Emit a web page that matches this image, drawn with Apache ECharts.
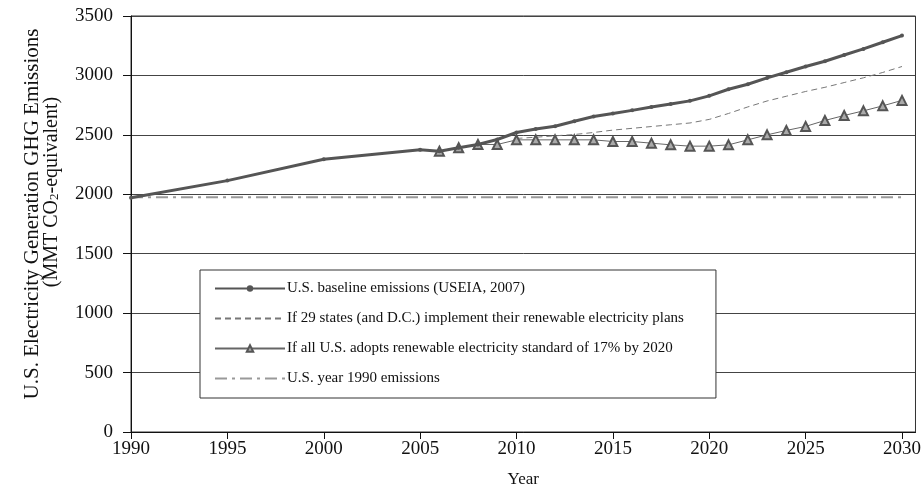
<!DOCTYPE html>
<html>
<head>
<meta charset="utf-8">
<script src="https://cdn.jsdelivr.net/npm/echarts@6/dist/echarts.min.js"></script>
<style>
  html, body { margin: 0; padding: 0; background: #fff; }
  #main { width: 924px; height: 495px; }
</style>
</head>
<body>
<div id="main"></div>
<script>
// values (MMT CO2-eq)
const baseYears = [1990, 1995, 2000, 2005, 2006, 2007, 2008, 2009, 2010, 2011, 2012, 2013, 2014, 2015,
  2016, 2017, 2018, 2019, 2020, 2021, 2022, 2023, 2024, 2025, 2026, 2027, 2028, 2029, 2030];
const baseValues = [1970, 2115, 2295, 2375, 2362, 2391, 2419, 2461, 2520, 2550, 2572, 2614, 2654, 2680,
  2706, 2734, 2759, 2786, 2828, 2884, 2926, 2979, 3027, 3075, 3119, 3172, 3223, 3279, 3335];

const statesYears = [2010, 2011, 2012, 2013, 2014, 2015, 2016, 2017, 2018, 2019, 2020,
  2021, 2022, 2023, 2024, 2025, 2026, 2027, 2028, 2029, 2030];
const statesValues = [2470, 2480, 2492, 2503, 2520, 2540, 2555, 2570, 2585, 2600, 2630,
  2680, 2735, 2785, 2825, 2865, 2900, 2940, 2980, 3025, 3075];

const rpsYears = [2006, 2007, 2008, 2009, 2010, 2011, 2012, 2013, 2014, 2015, 2016, 2017, 2018,
  2019, 2020, 2021, 2022, 2023, 2024, 2025, 2026, 2027, 2028, 2029, 2030];
const rpsValues = [2363, 2391, 2419, 2419, 2458, 2458, 2458, 2458, 2458, 2444, 2444, 2430, 2416,
  2405, 2405, 2416, 2458, 2500, 2537, 2571, 2621, 2663, 2702, 2744, 2790];

const refYears = [1990, 2030];
const refValues = [1975, 1975];

const xTicks = [1990, 1995, 2000, 2005, 2010, 2015, 2020, 2025, 2030];

const names = [
  'U.S. baseline emissions (USEIA, 2007)',
  'If 29 states (and D.C.) implement their renewable electricity plans',
  'If all U.S. adopts renewable electricity standard of 17% by 2020',
  'U.S. year 1990 emissions'
];

const pairs = (xs, ys) => xs.map((x, i) => [x, ys[i]]);

const font = 'Liberation Serif';
const noMarker = { color: 'rgba(0,0,0,0)', borderWidth: 0 };
const chart = echarts.init(document.getElementById('main'));

const option = {
  animation: false,
  textStyle: { fontFamily: font },
  grid: {
    left: 131, right: 5, top: 16, bottom: 63,
    show: true, borderColor: '#333', borderWidth: 1
  },
  legend: {
    data: [
      { name: names[0] },
      { name: names[1], itemStyle: noMarker },
      { name: names[2] },
      { name: names[3], itemStyle: noMarker }
    ],
    orient: 'vertical',
    left: 200, top: 270,
    itemWidth: 70, itemHeight: 8, itemGap: 15,
    padding: [11, 32, 12, 14],
    borderColor: '#333', borderWidth: 1,
    backgroundColor: '#fff',
    textStyle: { fontFamily: font, fontSize: 15, color: '#111', padding: [0, 0, 0, -3] }
  },
  xAxis: {
    type: 'value',
    min: 1990, max: 2030.7,
    name: 'Year',
    nameLocation: 'middle',
    nameGap: 39,
    nameTextStyle: { fontFamily: font, fontSize: 17, color: '#111' },
    axisLine: { lineStyle: { color: '#111', width: 1 } },
    axisTick: { show: true, length: 7, customValues: xTicks, lineStyle: { color: '#111' } },
    axisLabel: {
      customValues: xTicks, fontFamily: font, fontSize: 19, color: '#111', margin: 8,
      formatter: v => String(v)
    },
    splitLine: { show: false }
  },
  yAxis: {
    type: 'value',
    min: 0, max: 3500, interval: 500,
    name: '{a|U.S. Electricity Generation GHG Emissions}\n{b1|(MMT CO}{sub|2}{b|-equivalent)}',
    nameLocation: 'middle',
    nameGap: 70,
    nameTextStyle: {
      fontFamily: font, fontSize: 20, color: '#111', lineHeight: 19,
      rich: {
        a: { fontFamily: font, fontSize: 21, color: '#111', lineHeight: 19, padding: [0, 0, 0, 20] },
        b1: { fontFamily: font, fontSize: 20, color: '#111', lineHeight: 19, padding: [0, 0, 0, 64] },
        b: { fontFamily: font, fontSize: 20, color: '#111', lineHeight: 19 },
        sub: { fontFamily: font, fontSize: 13, color: '#111', lineHeight: 19, verticalAlign: 'bottom', padding: [8, 0, 0, 0] }
      }
    },
    axisLine: { show: true, lineStyle: { color: '#111', width: 1 } },
    axisTick: { show: true, length: 8, lineStyle: { color: '#111' } },
    axisLabel: { fontFamily: font, fontSize: 19, color: '#111', margin: 18, formatter: v => String(v) },
    splitLine: { show: true, lineStyle: { color: '#444', width: 1 } }
  },
  series: [
    {
      name: names[3],
      type: 'line',
      data: pairs(refYears, refValues),
      showSymbol: false, symbol: 'none',
      lineStyle: { color: '#999', width: 2, type: [12, 5, 3, 5] },
      itemStyle: { color: '#999' },
      z: 2
    },
    {
      name: names[1],
      type: 'line',
      data: pairs(statesYears, statesValues),
      showSymbol: false, symbol: 'none',
      lineStyle: { color: '#777', width: 1, type: [6, 4] },
      itemStyle: { color: '#777' },
      z: 3
    },
    {
      name: names[2],
      type: 'line',
      data: pairs(rpsYears, rpsValues),
      symbol: 'triangle', symbolSize: 9,
      lineStyle: { color: '#666', width: 1 },
      itemStyle: { color: '#aaa', borderColor: '#555', borderWidth: 2 },
      z: 4
    },
    {
      name: names[0],
      type: 'line',
      data: pairs(baseYears, baseValues),
      symbol: 'circle', symbolSize: 4,
      lineStyle: { color: '#555', width: 3 },
      itemStyle: { color: '#555' },
      z: 5
    }
  ]
};

chart.setOption(option);
</script>
</body>
</html>
